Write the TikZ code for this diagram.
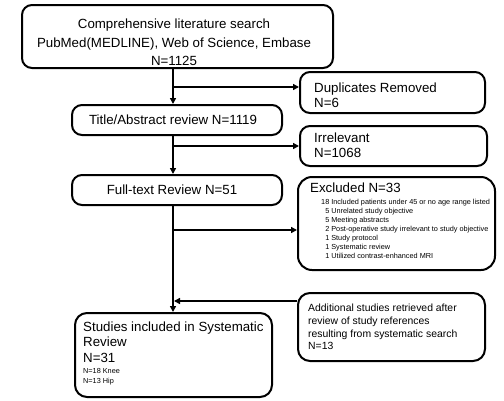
\documentclass[tikz,border=0pt]{standalone}
\usepackage{fontspec}
\setmainfont{Liberation Sans}
\usetikzlibrary{arrows.meta}
\begin{document}
\begin{tikzpicture}[x=1pt,y=-1pt,
  box/.style={draw, line width=2pt, rounded corners=10pt, inner sep=0pt},
  conn/.style={line width=2pt},
  arr/.style={conn, -{Triangle[length=6pt,width=6pt]}},
  txt/.style={inner sep=0pt, font=\fontsize{13.3}{15}\selectfont},
  bigtxt/.style={inner sep=0pt, font=\fontsize{13.3}{18.5}\selectfont},
  midtxt/.style={inner sep=0pt, font=\fontsize{10.4}{12.6}\selectfont},
  smalltxt/.style={inner sep=0pt, font=\fontsize{7.3}{9}\selectfont}]
\useasboundingbox (0,0) rectangle (504,400);
% boxes
\node[box, minimum width=311pt, minimum height=63pt] (top) at (177.5,36.5) {};
\node[box, minimum width=185pt, minimum height=41pt] (dup) at (392.5,92.5) {};
\node[box, minimum width=210pt, minimum height=30pt] (title) at (177,120) {};
\node[box, minimum width=187pt, minimum height=40pt] (irr) at (393.5,146) {};
\node[box, minimum width=210pt, minimum height=30pt] (full) at (177,190) {};
\node[box, rounded corners=14pt, minimum width=197pt, minimum height=93pt] (excl) at (396.5,223.5) {};
\node[box, rounded corners=12pt, minimum width=187pt, minimum height=68pt] (add) at (391.5,327) {};
\node[box, rounded corners=12pt, minimum width=197pt, minimum height=84pt] (studies) at (173.5,355) {};
% texts
\node[bigtxt, align=center] (ttop) at (174,42.5) {Comprehensive literature search\\PubMed(MEDLINE), Web of Science, Embase\\N=1125};
\node[txt, align=left, anchor=west] (tdup) at (314,95.5) {Duplicates Removed\\N=6};
\node[txt] (ttitle) at (173,120) {Title/Abstract review N=1119};
\node[txt, align=left, anchor=west] (tirr) at (314,145.5) {Irrelevant\\N=1068};
\node[txt] (tfull) at (172,189.5) {Full-text Review N=51};
\node[txt, anchor=west] (texclh) at (310,188) {Excluded N=33};
\node[smalltxt, align=left, anchor=west] (texcl) at (321,229) {18 Included patients under 45 or no age range listed\\
\hphantom{1}5 Unrelated study objective\\
\hphantom{1}5 Meeting abstracts\\
\hphantom{1}2 Post-operative study irrelevant to study objective\\
\hphantom{1}1 Study protocol\\
\hphantom{1}1 Systematic review\\
\hphantom{1}1 Utilized contrast-enhanced MRI};
\node[midtxt, align=left, anchor=west] (tadd) at (308,327) {Additional studies retrieved after\\review of study references\\resulting from systematic search\\N=13};
\node[txt, align=left, anchor=west, font=\fontsize{13.3}{15.5}\selectfont] (tstud) at (83,342) {Studies included in Systematic\\Review\\N=31};
\node[smalltxt, align=left, anchor=west, font=\fontsize{7.3}{9.5}\selectfont] (tstud2) at (83,376.5) {N=18 Knee\\N=13 Hip};
% connectors
\coordinate (sp) at (173,0);
\coordinate (d1) at ([yshift=5.5pt]dup.west);
\coordinate (e1) at ([yshift=-6.5pt]excl.west);
\coordinate (a1) at ([yshift=26pt]add.west);
\draw[arr] (top.south -| sp) -- (title.north -| sp);
\draw[arr] (d1 -| sp) -- (d1);
\draw[arr] (title.south -| sp) -- (full.north -| sp);
\draw[arr] (irr.west -| sp) -- (irr.west);
\draw[arr] (full.south -| sp) -- (studies.north -| sp);
\draw[arr] (e1 -| sp) -- (e1);
\draw[arr, shorten >=1pt] (a1) -- (a1 -| sp);
\end{tikzpicture}
\end{document}
